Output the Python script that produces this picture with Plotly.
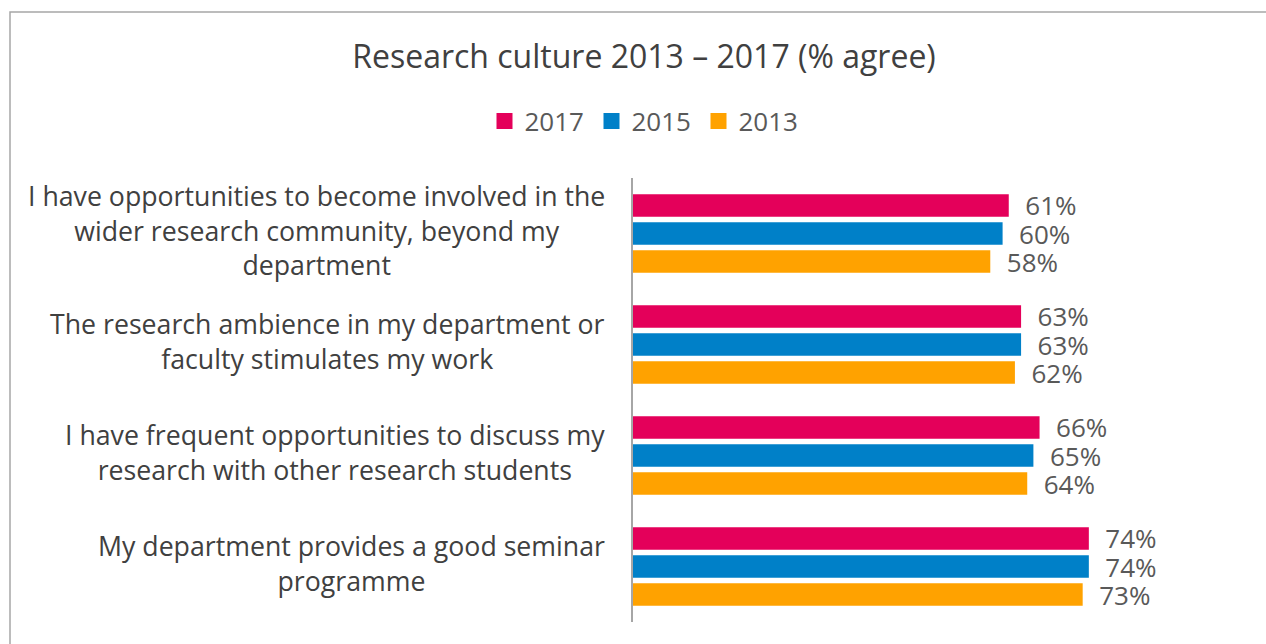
import plotly.graph_objects as go

# Survey statements (top to bottom) and % agree per survey year
statements = [
    ["I have opportunities to become involved in the",
     "wider research community, beyond my",
     "department"],
    ["The research ambience in my department or",
     "faculty stimulates my work"],
    ["I have frequent opportunities to discuss my",
     "research with other research students"],
    ["My department provides a good seminar",
     "programme"],
]
categories = [" ".join(s) for s in statements]

years = ["2017", "2015", "2013"]
values_2017 = [61, 63, 66, 74]
values_2015 = [60, 63, 65, 74]
values_2013 = [58, 62, 64, 73]
series_values = [values_2017, values_2015, values_2013]
colors = ["#E4005A", "#0080C8", "#FFA200"]

FONT = "Open Sans, Noto Sans, sans-serif"
PAD = "\u00a0\u00a0"

fig = go.Figure()
for year, vals, col in zip(years, series_values, colors):
    fig.add_trace(go.Bar(
        name=year,
        y=categories,
        x=vals,
        orientation="h",
        marker=dict(color=col, line=dict(width=0)),
        text=[f"{PAD}{v}%" for v in vals],
        textposition="outside",
        constraintext="none",
        cliponaxis=False,
        textfont=dict(family=FONT, size=26, color="#595959"),
        hoverinfo="skip",
        showlegend=False,
    ))

# Legend entries drawn as square swatches
for year, col in zip(years, colors):
    fig.add_trace(go.Scatter(
        name=year, x=[None], y=[None], mode="markers",
        marker=dict(symbol="square", size=16, color=col),
        showlegend=True, hoverinfo="skip",
    ))

# Category labels: right-anchored blocks with centred lines
annotations = []
for cat, lines in zip(categories, statements):
    annotations.append(dict(
        xref="paper", yref="y", x=0, y=cat,
        xanchor="right", yanchor="middle", xshift=-26, yshift=4,
        align="center", showarrow=False,
        text="<br>".join(lines),
        font=dict(family=FONT, size=26.7, color="#404040"),
    ))

# Outer chart frame
frame = dict(
    type="rect", xref="paper", yref="paper",
    x0=(10 - 633) / 616, x1=1.2, y0=-0.2, y1=(622 - 12) / 444,
    line=dict(color="#A6A6A6", width=1.5), fillcolor="rgba(0,0,0,0)",
    layer="below",
)

fig.update_layout(
    width=1266, height=644,
    margin=dict(l=633, r=17, t=178, b=22),
    paper_bgcolor="white", plot_bgcolor="white",
    barmode="group", bargap=0.24, bargroupgap=0.2,
    title=dict(
        text="Research culture 2013 \u2013 2017 (% agree)",
        xref="container", yref="container",
        x=644 / 1266, y=1 - 57 / 644, xanchor="center", yanchor="middle",
        font=dict(family=FONT, size=32, color="#404040"),
    ),
    legend=dict(
        orientation="h", xref="container", yref="container",
        x=645 / 1266, y=1 - 121 / 644, xanchor="center", yanchor="middle",
        font=dict(family=FONT, size=26, color="#595959"),
        entrywidth=62, entrywidthmode="pixels",
        traceorder="normal", itemclick=False, itemdoubleclick=False,
    ),
    xaxis=dict(range=[0, 100], visible=False, fixedrange=True),
    yaxis=dict(
        autorange="reversed", showticklabels=False, ticks="",
        showline=True, linecolor="#A6A6A6", linewidth=1.5,
        showgrid=False, zeroline=False, fixedrange=True,
    ),
    annotations=annotations,
    shapes=[frame],
    showlegend=True,
)

fig.write_html("out.html")
